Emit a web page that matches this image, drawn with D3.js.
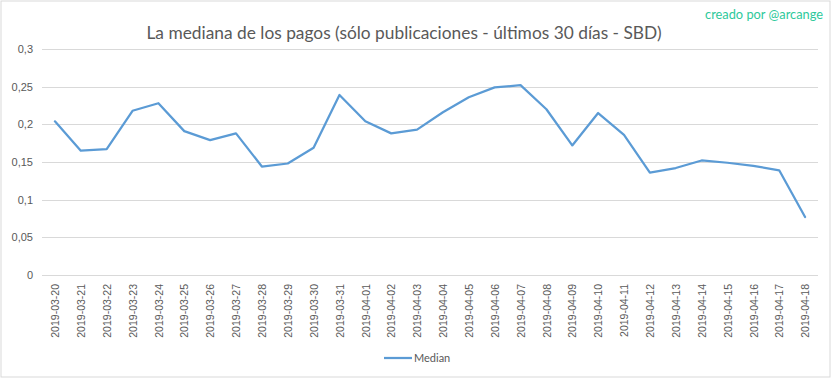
<!DOCTYPE html>
<html>
<head>
<meta charset="utf-8">
<script src="https://cdn.jsdelivr.net/npm/d3@7"></script>
<style>
  body { margin: 0; background: #fff; }
  svg { display: block; font-family: Lato, "Open Sans", sans-serif; }
</style>
</head>
<body>
<div id="chart"></div>
<script>
// chart values
var dates = ["2019-03-20","2019-03-21","2019-03-22","2019-03-23","2019-03-24","2019-03-25",
             "2019-03-26","2019-03-27","2019-03-28","2019-03-29","2019-03-30","2019-03-31",
             "2019-04-01","2019-04-02","2019-04-03","2019-04-04","2019-04-05","2019-04-06",
             "2019-04-07","2019-04-08","2019-04-09","2019-04-10","2019-04-11","2019-04-12",
             "2019-04-13","2019-04-14","2019-04-15","2019-04-16","2019-04-17","2019-04-18"];
var median = [0.204, 0.165, 0.167, 0.218, 0.228, 0.191,
              0.179, 0.188, 0.144, 0.148, 0.169, 0.239,
              0.204, 0.188, 0.193, 0.216, 0.236, 0.249,
              0.252, 0.220, 0.172, 0.215, 0.186, 0.136,
              0.142, 0.152, 0.149, 0.145, 0.139, 0.077];
var yTicks = [0, 0.05, 0.1, 0.15, 0.2, 0.25, 0.3];
var yTickLabels = ["0", "0,05", "0,1", "0,15", "0,2", "0,25", "0,3"];
var title = "La mediana de los pagos (sólo publicaciones - últimos 30 días - SBD)";
var credit = "creado por @arcange";
var seriesName = "Median";

var width = 833, height = 378;
var textColor = "#595959", gridColor = "#d9d9d9", lineColor = "#5b9bd5";

var svg = d3.select("#chart").append("svg").attr("width", width).attr("height", height);

// outer border
svg.append("rect").attr("x", 1).attr("y", 1).attr("width", width - 4).attr("height", height - 2)
   .attr("fill", "#fff").attr("stroke", "#d9d9d9").attr("stroke-width", 1);

var x = d3.scalePoint().domain(dates).range([42, 818]).padding(0.5);
var y = d3.scaleLinear().domain([0, 0.3]).range([275, 49]);

// gridlines + y labels
var yAxis = d3.axisLeft(y).tickValues(yTicks).tickSize(-(818 - 42)).tickPadding(9)
              .tickFormat(function(d, i){ return yTickLabels[i]; });
var gy = svg.append("g").attr("transform", "translate(42,0)").call(yAxis);
gy.select(".domain").remove();
gy.selectAll(".tick line").attr("stroke", gridColor).attr("shape-rendering", "crispEdges");
gy.selectAll(".tick text").attr("fill", textColor).attr("font-size", "11px");

// x labels, rotated
var xAxis = d3.axisBottom(x).tickSize(0).tickPadding(0);
var gx = svg.append("g").attr("transform", "translate(0,275)").call(xAxis);
gx.select(".domain").remove();
gx.selectAll(".tick text")
  .attr("fill", textColor).attr("font-size", "10.5px")
  .attr("transform", "rotate(-90)")
  .attr("text-anchor", "end")
  .attr("x", -9).attr("y", 0).attr("dy", "0.35em");

// line
var line = d3.line()
  .x(function(d, i){ return x(dates[i]); })
  .y(function(d){ return y(d); });
svg.append("path").datum(median)
   .attr("d", line).attr("fill", "none")
   .attr("stroke", lineColor).attr("stroke-width", 2.25)
   .attr("stroke-linejoin", "round").attr("stroke-linecap", "round");

// fit a text's font size so it spans roughly the wanted width
function fitText(sel, base, wanted) {
  sel.attr("font-size", base + "px");
  var w = sel.node().getComputedTextLength();
  if (w > 0) sel.attr("font-size", (base * wanted / w).toFixed(2) + "px");
}

// title
var t = svg.append("text").attr("x", 404).attr("y", 39).attr("text-anchor", "middle")
   .attr("fill", textColor).text(title);
fitText(t, 18, 515);

// credit
var c = svg.append("text").attr("x", 823).attr("y", 19).attr("text-anchor", "end")
   .attr("fill", "#2ec99b").text(credit);
fitText(c, 12, 118);

// legend
svg.append("line").attr("x1", 384).attr("x2", 412).attr("y1", 358).attr("y2", 358)
   .attr("stroke", lineColor).attr("stroke-width", 2.25);
svg.append("text").attr("x", 414).attr("y", 358).attr("dy", "0.35em")
   .attr("fill", textColor).attr("font-size", "11px").text(seriesName);
</script>
</body>
</html>
